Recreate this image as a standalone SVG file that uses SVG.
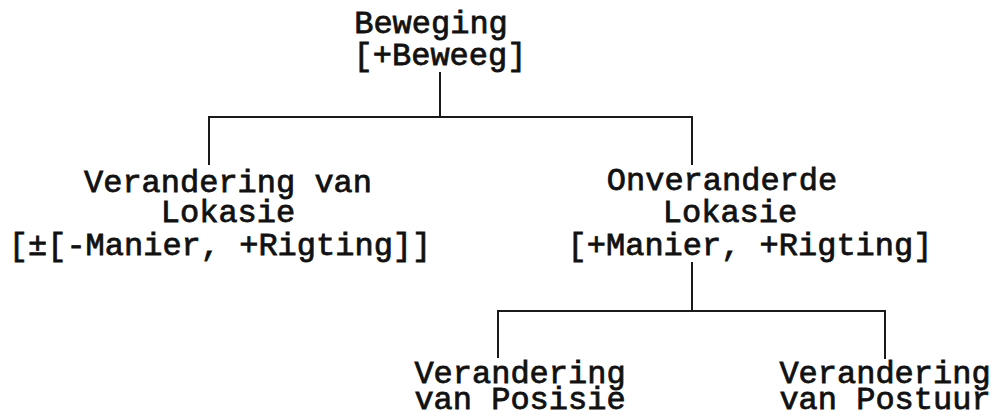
<svg xmlns="http://www.w3.org/2000/svg" width="996" height="417" viewBox="0 0 996 417">
<style>
  text { font-family: "Liberation Mono", "Courier New", monospace; font-size: 32px; font-weight: normal; fill: #111; stroke: #111; stroke-width: 0.8; text-anchor: middle; }
  .conn line { stroke: #1a1a1a; stroke-width: 2; fill: none; }
</style>
<rect width="996" height="417" fill="#ffffff"/>
<g class="conn" id="connectors">
  <line x1="440" y1="72" x2="440" y2="117"/>
  <line x1="208" y1="117" x2="693" y2="117"/>
  <line x1="209" y1="116" x2="209" y2="165"/>
  <line x1="692" y1="116" x2="692" y2="165"/>
  <line x1="692" y1="262" x2="692" y2="311"/>
  <line x1="497" y1="311" x2="886" y2="311"/>
  <line x1="498" y1="310" x2="498" y2="358"/>
  <line x1="885" y1="310" x2="885" y2="359"/>
</g>
<g id="node-beweging">
  <text x="431" y="33">Beweging</text>
  <text x="440" y="65">[+Beweeg]</text>
</g>
<g id="node-verandering-lokasie">
  <text x="228" y="192">Verandering van</text>
  <text x="228" y="222">Lokasie</text>
  <text x="220" y="255">[±[-Manier, +Rigting]]</text>
</g>
<g id="node-onveranderde-lokasie">
  <text x="722" y="190">Onveranderde</text>
  <text x="730" y="222">Lokasie</text>
  <text x="750" y="255">[+Manier, +Rigting]</text>
</g>
<g id="node-posisie">
  <text x="520" y="383">Verandering</text>
  <text x="520" y="409">van Posisie</text>
</g>
<g id="node-postuur">
  <text x="885" y="383">Verandering</text>
  <text x="885" y="409">van Postuur</text>
</g>
</svg>
